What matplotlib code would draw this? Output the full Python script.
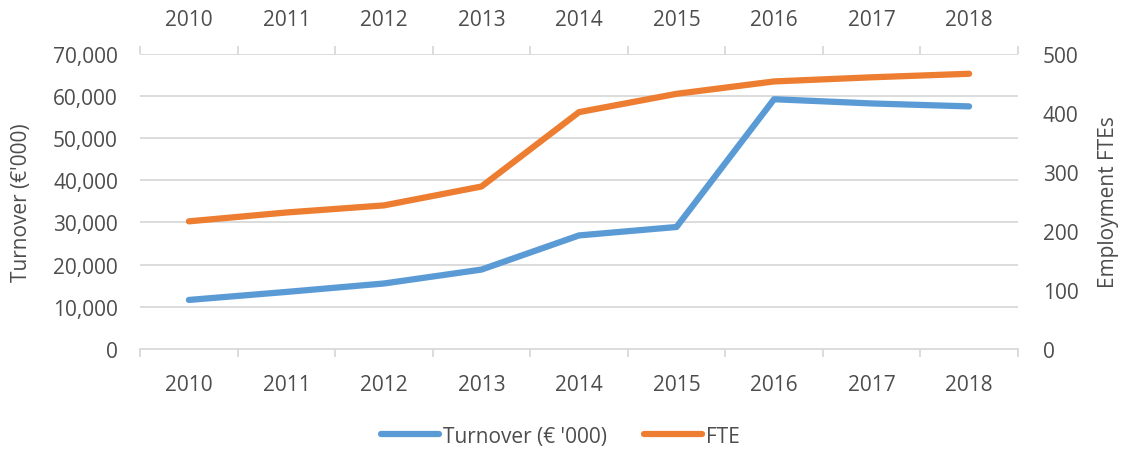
import numpy as np
import matplotlib.pyplot as plt

plt.rcParams['font.family'] = ['Open Sans', 'DejaVu Sans']

years = ['2010', '2011', '2012', '2013', '2014', '2015', '2016', '2017', '2018']
turnover = [11600, 13500, 15500, 18800, 26900, 28900, 59200, 58200, 57500]
fte = [216, 231, 243, 275, 401, 432, 453, 460, 466]

blue = '#5B9BD5'
orange = '#ED7D31'
grey = '#4D4D4D'
grid = '#D9D9D9'
fs = 15

fig = plt.figure(figsize=(11.21, 4.52), dpi=100)
ax = fig.add_axes([0.125, 0.226, 0.783, 0.653])
ax2 = ax.twinx()

x = np.arange(len(years))
ax.plot(x, turnover, color=blue, lw=4.5, solid_capstyle='round', label="Turnover (€ '000)")
ax2.plot(x, fte, color=orange, lw=4.5, solid_capstyle='round', label='FTE')

ax.set_xlim(-0.5, len(years) - 0.5)
ax.set_ylim(0, 70000)
ax2.set_ylim(0, 500)
ax.set_yticks(np.arange(0, 70001, 10000))
ax.set_yticklabels([f'{v:,}' for v in range(0, 70001, 10000)])
ax2.set_yticks(np.arange(0, 501, 100))

for y in np.arange(10000, 70001, 10000):
    ax.axhline(y, color=grid, lw=1.3, zorder=0)

for s in ['left', 'right', 'top']:
    ax.spines[s].set_visible(False)
    ax2.spines[s].set_visible(False)
ax.spines['bottom'].set_color(grid)
ax.spines['bottom'].set_linewidth(1.3)
ax2.spines['bottom'].set_visible(False)

# year labels under and over the plot, ticks on category edges
ax.set_xticks(x)
ax.set_xticklabels(years)
ax.set_xticks(np.arange(-0.5, len(years)), minor=True)
ax.tick_params(axis='x', which='major', length=0, pad=18, labelsize=fs, labelcolor=grey)
ax.tick_params(axis='x', which='minor', length=6, width=1.3, color=grid)
ax.tick_params(axis='y', length=0, pad=16, labelsize=fs, labelcolor=grey)
ax2.tick_params(axis='y', length=0, pad=18, labelsize=fs, labelcolor=grey)

top = ax.secondary_xaxis('top')
top.set_xticks(x)
top.set_xticklabels(years)
top.set_xticks(np.arange(-0.5, len(years)), minor=True)
top.spines['top'].set_visible(False)
top.tick_params(axis='x', which='major', length=0, pad=17, labelsize=fs, labelcolor=grey)
top.tick_params(axis='x', which='minor', length=6, width=1.3, color=grid)

ax.set_ylabel("Turnover (€'000)", fontsize=fs, color=grey)
ax.yaxis.set_label_coords(-0.123, 0.5)
ax2.set_ylabel('Employment FTEs', fontsize=fs, color=grey)
ax2.yaxis.set_label_coords(1.091, 0.5)

h1, l1 = ax.get_legend_handles_labels()
h2, l2 = ax2.get_legend_handles_labels()
fig.legend(h1 + h2, l1 + l2, loc='center', bbox_to_anchor=(0.5, 0.033), ncol=2,
           frameon=False, fontsize=fs, labelcolor=grey, handlelength=2.75,
           handletextpad=0.2, columnspacing=1.8)

fig.savefig('out.png', dpi=100)
